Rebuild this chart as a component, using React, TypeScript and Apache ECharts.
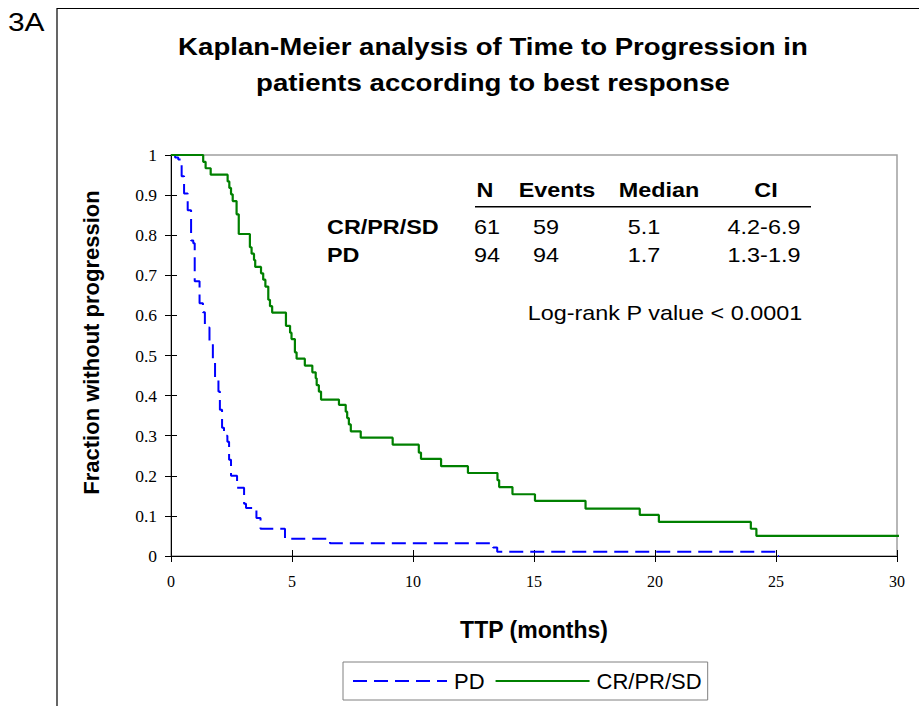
import React, { useEffect, useRef } from 'react';
import * as echarts from 'echarts';

// Kaplan-Meier step curves: time (months) at which the fraction changes, and the new fraction
const pdTimes = [0, 0.17, 0.30, 0.44, 0.54, 0.69, 0.83, 0.92, 0.98, 1.18, 1.32, 1.40, 1.59, 1.73, 1.82, 1.96, 2.02, 2.11, 2.19, 2.33, 2.40, 2.48, 2.73, 3.02, 3.10, 3.53, 3.70, 4.71, 6.57, 13.31, 13.48, 25.06, 25.12];
const pdFraction = [1, 0.994, 0.989, 0.947, 0.904, 0.862, 0.787, 0.78, 0.685, 0.63, 0.608, 0.57, 0.532, 0.49, 0.445, 0.41, 0.365, 0.32, 0.30, 0.285, 0.24, 0.20, 0.17, 0.13, 0.12, 0.095, 0.068, 0.043, 0.032, 0.021, 0.0106, 0, 0];

const crTimes = [0, 1.33, 1.43, 1.64, 2.34, 2.41, 2.48, 2.55, 2.71, 2.80, 3.26, 3.33, 3.43, 3.48, 3.72, 3.81, 3.90, 4.02, 4.09, 4.18, 4.75, 4.92, 4.98, 5.12, 5.19, 5.53, 5.84, 5.98, 6.02, 6.11, 6.20, 6.94, 7.22, 7.28, 7.35, 7.43, 7.84, 9.16, 10.24, 10.33, 11.16, 12.27, 13.49, 13.56, 14.11, 15.04, 17.13, 19.37, 20.16, 23.96, 24.19, 30.43];
const crFraction = [1, 0.983, 0.967, 0.951, 0.934, 0.918, 0.902, 0.885, 0.852, 0.803, 0.770, 0.754, 0.738, 0.721, 0.705, 0.689, 0.672, 0.639, 0.623, 0.607, 0.574, 0.557, 0.541, 0.508, 0.492, 0.475, 0.458, 0.443, 0.426, 0.41, 0.39, 0.377, 0.36, 0.344, 0.328, 0.311, 0.295, 0.2775, 0.258, 0.242, 0.224, 0.207, 0.189, 0.172, 0.154, 0.1375, 0.118, 0.1025, 0.085, 0.068, 0.05, 0.05];

// Summary table
const tableHeaders = ['N', 'Events', 'Median', 'CI'];
const tableGroups = ['CR/PR/SD', 'PD'];
const tableN = ['61', '94'];
const tableEvents = ['59', '94'];
const tableMedian = ['5.1', '1.7'];
const tableCI = ['4.2-6.9', '1.3-1.9'];

const titleLines = ['Kaplan-Meier analysis of Time to Progression in', 'patients according to best response'];
const panelLabel = '3A';
const pValueText = 'Log-rank P value < 0.0001';

const SANS = 'Arial, Liberation Sans, Helvetica, sans-serif';
const SERIF = 'Liberation Serif, Times New Roman, Times, serif';

function txt(text: string, x: number, y: number, size: number, bold: boolean, align: string, sx = 1.17) {
  return {
    type: 'text',
    x,
    y,
    scaleX: sx,
    silent: true,
    style: {
      text,
      fill: '#000',
      fontSize: size,
      fontWeight: bold ? 'bold' : 'normal',
      fontFamily: SANS,
      align,
      verticalAlign: 'middle',
      textAlign: align,
      textVerticalAlign: 'middle',
    },
  };
}

export default function App() {
  const ref = useRef<HTMLDivElement>(null);

  useEffect(() => {
    if (!ref.current) return;
    const chart = echarts.init(ref.current, null, { renderer: 'svg' });

    const headerX = [485, 557, 659, 766];
    const colX = [487, 546, 644, 764];
    const rowY = [227, 255];
    const graphics: any[] = [
      {
        type: 'polyline',
        silent: true,
        shape: { points: [[57, 706], [57, 8.5], [919, 8.5]] },
        style: { stroke: '#000', lineWidth: 1.2, fill: 'none' },
      },
      txt(panelLabel, 8, 22, 26, false, 'left', 1.15),
      txt(titleLines[0], 493, 47, 24, true, 'center', 1.15),
      txt(titleLines[1], 493, 83, 24, true, 'center', 1.15),
      {
        type: 'line',
        silent: true,
        shape: { x1: 475, y1: 206.7, x2: 811, y2: 206.7 },
        style: { stroke: '#000', lineWidth: 1.5 },
      },
      txt(pValueText, 665, 313, 20, false, 'center'),
    ];
    tableHeaders.forEach((h, i) => graphics.push(txt(h, headerX[i], 190.5, 20, true, 'center')));
    tableGroups.forEach((g, r) => {
      graphics.push(txt(g, 327, rowY[r], 20, true, 'left'));
      graphics.push(txt(tableN[r], colX[0], rowY[r], 20, false, 'center'));
      graphics.push(txt(tableEvents[r], colX[1], rowY[r], 20, false, 'center'));
      graphics.push(txt(tableMedian[r], colX[2], rowY[r], 20, false, 'center'));
      graphics.push(txt(tableCI[r], colX[3], rowY[r], 20, false, 'center'));
    });

    const tickStyle = { color: '#000', width: 1 };

    chart.setOption({
      animation: false,
      backgroundColor: '#fff',
      grid: {
        left: 171,
        right: 22,
        top: 155,
        bottom: 150,
        show: true,
        borderColor: '#a0a0a0',
        borderWidth: 1.5,
      },
      legend: {
        data: ['PD', 'CR/PR/SD'],
        left: 343,
        top: 662,
        orient: 'horizontal',
        itemWidth: 94,
        itemHeight: 2,
        itemGap: 10,
        padding: [8, 6, 8, 9],
        borderColor: '#808080',
        borderWidth: 1,
        itemStyle: { opacity: 0 },
        textStyle: { fontSize: 22, fontFamily: SANS, color: '#000', padding: [0, 0, 0, 2] },
      },
      xAxis: [
        {
          type: 'value',
          min: 0,
          max: 30,
          interval: 5,
          position: 'bottom',
          axisLine: { onZero: false, lineStyle: tickStyle },
          axisTick: { length: 6, lineStyle: tickStyle },
          axisLabel: { fontFamily: SERIF, fontSize: 16, color: '#000', margin: 17 },
          splitLine: { show: false },
          name: 'TTP (months)',
          nameLocation: 'middle',
          nameGap: 62,
          nameTextStyle: { fontFamily: SANS, fontWeight: 'bold', fontSize: 23, color: '#000' },
        },
        {
          type: 'value',
          min: 0,
          max: 30,
          interval: 5,
          position: 'bottom',
          axisLine: { show: false },
          axisTick: { inside: true, length: 6, lineStyle: tickStyle },
          axisLabel: { show: false },
          splitLine: { show: false },
        },
      ],
      yAxis: [
        {
          type: 'value',
          min: 0,
          max: 1,
          interval: 0.1,
          position: 'left',
          axisLine: { show: true, onZero: false, lineStyle: tickStyle },
          axisTick: { show: true, length: 6, lineStyle: tickStyle },
          axisLabel: { fontFamily: SERIF, fontSize: 17.5, color: '#000', margin: 14 },
          splitLine: { show: false },
          name: 'Fraction without progression',
          nameLocation: 'middle',
          nameGap: 69,
          nameTextStyle: {
            fontFamily: SANS,
            fontWeight: 'bold',
            fontSize: 22,
            color: '#000',
            padding: [0, 0, 0, 26],
          },
        },
        {
          type: 'value',
          min: 0,
          max: 1,
          interval: 0.1,
          position: 'left',
          axisLine: { show: false },
          axisTick: { show: true, inside: true, length: 6, lineStyle: tickStyle },
          axisLabel: { show: false },
          splitLine: { show: false },
        },
      ],
      series: [
        {
          name: 'PD',
          type: 'line',
          step: 'end',
          xAxisIndex: 0,
          yAxisIndex: 0,
          symbol: 'none',
          clip: false,
          data: pdTimes.map((t, i) => [t, pdFraction[i]]),
          lineStyle: { color: '#0000ff', width: 2, type: [14, 7] },
          itemStyle: { color: '#0000ff' },
        },
        {
          name: 'CR/PR/SD',
          type: 'line',
          step: 'end',
          xAxisIndex: 0,
          yAxisIndex: 0,
          symbol: 'none',
          clip: false,
          data: crTimes.map((t, i) => [t, crFraction[i]]),
          lineStyle: { color: '#008000', width: 2.2 },
          itemStyle: { color: '#008000' },
        },
      ],
      graphic: graphics,
    });

    return () => chart.dispose();
  }, []);

  return (
    <div
      ref={ref}
      style={{ position: 'fixed', left: 0, top: 0, width: 919, height: 706, background: '#fff' }}
    />
  );
}
